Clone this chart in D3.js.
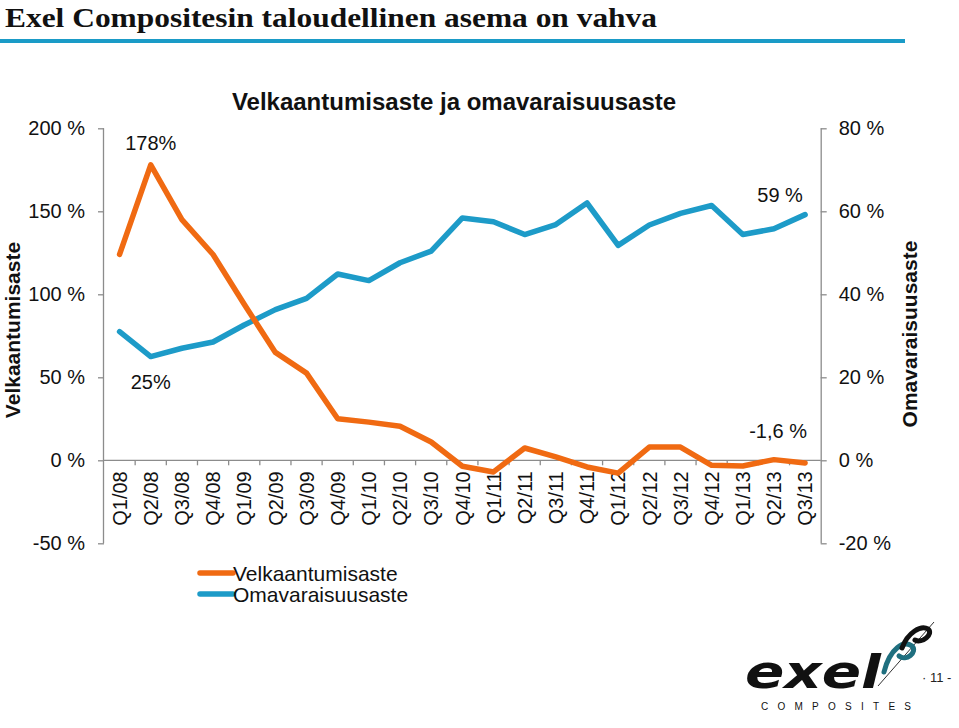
<!DOCTYPE html>
<html>
<head>
<meta charset="utf-8">
<script src="https://cdn.jsdelivr.net/npm/d3@7"></script>
<style>
  html, body { margin: 0; padding: 0; background: #fff; }
  svg { display: block; }
</style>
</head>
<body>
<svg id="chart" width="959" height="728"></svg>
<script>
const categories = ["Q1/08","Q2/08","Q3/08","Q4/08","Q1/09","Q2/09","Q3/09","Q4/09",
  "Q1/10","Q2/10","Q3/10","Q4/10","Q1/11","Q2/11","Q3/11","Q4/11",
  "Q1/12","Q2/12","Q3/12","Q4/12","Q1/13","Q2/13","Q3/13"];
const velkaantumisaste = [124,178,145,124,94,65,52.5,25,23,20.5,11,-3.6,-7,7.4,2,-4,-7.7,8,8,-3,-3.4,0.4,-1.6];
const omavaraisuusaste = [31,25,27,28.5,32.6,36.3,39,44.9,43.3,47.6,50.4,58.4,57.5,54.4,56.8,62,51.8,56.7,59.5,61.4,54.4,55.8,59.2];
const leftTicks = [-50,0,50,100,150,200];
const rightTicks = [-20,0,20,40,60,80];
const seriesNames = ["Velkaantumisaste","Omavaraisuusaste"];
const annotations = [
  {series: 0, index: 1, text: "178%"},
  {series: 1, index: 1, text: "25%"},
  {series: 1, index: 22, text: "59 %"},
  {series: 0, index: 22, text: "-1,6 %"}
];

const ORANGE = "#f06a12", BLUE = "#1d9bc8", AXIS = "#8c8c8c";
const FONT = "'Liberation Sans', Arial, sans-serif";

const svg = d3.select("#chart");
const x = d3.scaleBand().domain(categories).range([104, 820.7]);
const yL = d3.scaleLinear().domain([-50, 200]).range([543.3, 128.3]);
const yR = d3.scaleLinear().domain([-20, 80]).range([543.3, 128.3]);
const cx = c => x(c) + x.bandwidth() / 2;

// Slide title
svg.append("text").attr("x", 5).attr("y", 27)
  .attr("font-family", "'Liberation Serif', 'Times New Roman', serif")
  .attr("font-size", 28).attr("font-weight", "bold").attr("fill", "#111")
  .attr("textLength", 652).attr("lengthAdjust", "spacingAndGlyphs")
  .text("Exel Compositesin taloudellinen asema on vahva");
svg.append("rect").attr("x", 0).attr("y", 39).attr("width", 905).attr("height", 4).attr("fill", "#1a9bc7");

// Chart title
svg.append("text").attr("x", 454).attr("y", 110).attr("text-anchor", "middle")
  .attr("font-family", FONT).attr("font-size", 24).attr("font-weight", "bold").attr("fill", "#111")
  .text("Velkaantumisaste ja omavaraisuusaste");

// Left axis
const gL = svg.append("g").attr("transform", "translate(104,0)")
  .call(d3.axisLeft(yL).tickValues(leftTicks).tickSize(6).tickPadding(13).tickFormat(d => d + " %"));
gL.select(".domain").attr("stroke", AXIS).attr("stroke-width", 1.3).attr("d", `M-0.5,${yL(200)}V${yL(-50)}`);
gL.selectAll(".tick line").attr("stroke", AXIS).attr("stroke-width", 1.3);
gL.selectAll(".tick text").attr("font-family", FONT).attr("font-size", 20).attr("fill", "#111");

// Right axis
const gR = svg.append("g").attr("transform", "translate(820.7,0)")
  .call(d3.axisRight(yR).tickValues(rightTicks).tickSize(6).tickPadding(12).tickFormat(d => d + " %"));
gR.select(".domain").attr("stroke", AXIS).attr("stroke-width", 1.3).attr("d", `M0.5,${yR(80)}V${yR(-20)}`);
gR.selectAll(".tick line").attr("stroke", AXIS).attr("stroke-width", 1.3);
gR.selectAll(".tick text").attr("font-family", FONT).attr("font-size", 20).attr("fill", "#111");

// Category axis at zero
const y0 = yL(0);
svg.append("line").attr("x1", 104).attr("x2", 820.7).attr("y1", y0).attr("y2", y0)
  .attr("stroke", AXIS).attr("stroke-width", 1.3);
svg.append("g").selectAll("line").data(categories.slice(1)).join("line")
  .attr("x1", d => x(d)).attr("x2", d => x(d)).attr("y1", y0).attr("y2", y0 + 5)
  .attr("stroke", AXIS).attr("stroke-width", 1.3);
svg.append("g").selectAll("text").data(categories).join("text")
  .attr("transform", d => `translate(${cx(d)},${y0 + 11}) rotate(-90)`)
  .attr("text-anchor", "end").attr("dy", "0.36em")
  .attr("font-family", FONT).attr("font-size", 20).attr("fill", "#111")
  .text(d => d);

// Axis titles
svg.append("text").attr("transform", "translate(20,330) rotate(-90)").attr("text-anchor", "middle")
  .attr("font-family", FONT).attr("font-size", 21).attr("font-weight", "bold").attr("fill", "#111")
  .text("Velkaantumisaste");
svg.append("text").attr("transform", "translate(917,334) rotate(-90)").attr("text-anchor", "middle")
  .attr("font-family", FONT).attr("font-size", 21).attr("font-weight", "bold").attr("fill", "#111")
  .text("Omavaraisuusaste");

// Lines
const lineL = d3.line().x((d, i) => cx(categories[i])).y(d => yL(d));
const lineR = d3.line().x((d, i) => cx(categories[i])).y(d => yR(d));
svg.append("path").datum(omavaraisuusaste).attr("d", lineR)
  .attr("fill", "none").attr("stroke", BLUE).attr("stroke-width", 5.5).attr("stroke-linejoin", "round").attr("stroke-linecap", "round");
svg.append("path").datum(velkaantumisaste).attr("d", lineL)
  .attr("fill", "none").attr("stroke", ORANGE).attr("stroke-width", 5.5).attr("stroke-linejoin", "round").attr("stroke-linecap", "round");

// Annotations
const annPos = [
  {dx: 0, y: 150}, {dx: 0, y: 389}, {dx: -25, y: 202}, {dx: -27, y: 438}
];
annotations.forEach((a, k) => {
  svg.append("text").attr("x", cx(categories[a.index]) + annPos[k].dx).attr("y", annPos[k].y)
    .attr("text-anchor", "middle").attr("font-family", FONT).attr("font-size", 20).attr("fill", "#111")
    .text(a.text);
});

// Legend
const legend = svg.append("g");
[ORANGE, BLUE].forEach((c, i) => {
  const ly = 573 + i * 21;
  legend.append("line").attr("x1", 200).attr("x2", 233).attr("y1", ly).attr("y2", ly)
    .attr("stroke", c).attr("stroke-width", 5.5).attr("stroke-linecap", "round");
  legend.append("text").attr("x", 233).attr("y", ly).attr("dy", "0.36em")
    .attr("font-family", FONT).attr("font-size", 21).attr("fill", "#111").text(seriesNames[i]);
});

// Logo
const logo = svg.append("g");
logo.append("text").attr("x", 745).attr("y", 688)
  .attr("font-family", "'DejaVu Sans', sans-serif").attr("font-weight", "bold").attr("font-style", "italic")
  .attr("font-size", 47).attr("fill", "#111").attr("textLength", 136).attr("lengthAdjust", "spacingAndGlyphs")
  .text("exel");
logo.append("text").attr("x", 761).attr("y", 710)
  .attr("font-family", FONT).attr("font-size", 10).attr("fill", "#111")
  .attr("textLength", 150).attr("lengthAdjust", "spacing")
  .text("COMPOSITES");
logo.append("path").attr("d", "M878,686 L934,622").attr("stroke", "#333").attr("stroke-width", 1);
logo.append("path").attr("d", "M884,672 C890,648 904,640 912,646 C918,652 906,662 899,656")
  .attr("fill", "none").attr("stroke", "#1f6f7f").attr("stroke-width", 5).attr("stroke-linecap", "round");
logo.append("path").attr("d", "M902,648 C908,632 921,625 928,629 C934,634 922,644 915,640")
  .attr("fill", "none").attr("stroke", "#111").attr("stroke-width", 5).attr("stroke-linecap", "round");
svg.append("text").attr("x", 922).attr("y", 682).attr("font-family", FONT).attr("font-size", 13).attr("fill", "#222")
  .text("· 11 -");
</script>
</body>
</html>
